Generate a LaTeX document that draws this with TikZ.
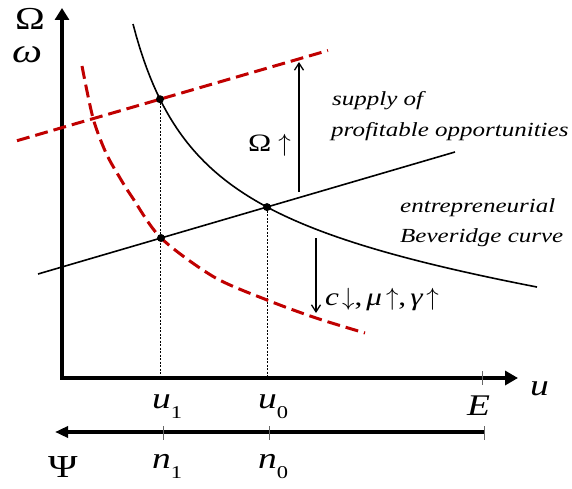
\documentclass[tikz,border=0pt]{standalone}
\usepackage{fontspec}
\setmainfont{Liberation Serif}[FakeStretch=1.25]
\usetikzlibrary{arrows.meta}
\definecolor{dred}{RGB}{192,0,0}
\newcommand{\myfs}[1]{\fontsize{#1}{#1}\selectfont}
\newcommand{\sublab}[2]{\textit{#1}\raisebox{-10pt}{\myfs{18}#2}}
\begin{document}
\begin{tikzpicture}[x=1pt,y=-1pt,
  axis/.style={line width=4.8pt, line join=miter},
  curve/.style={line width=1.6pt},
  reddash/.style={dred, line width=3pt, dash pattern=on 13pt off 6pt},
  guide/.style={line width=0.8pt, dash pattern=on 2pt off 1.5pt},
  tickmark/.style={line width=0.7pt, black!60},
  shiftarrow/.style={line width=1.3pt, -{Straight Barb[length=7pt,width=9pt]}},
  dot/.style={circle, fill, inner sep=0pt, minimum size=8pt},
  lbl/.style={inner sep=0pt, anchor=base west}]
\useasboundingbox (0,0) rectangle (572,489);

% key coordinates
\coordinate (ytop) at (62,8);
\coordinate (orig) at (62,378);
\coordinate (xend) at (518,378);
\coordinate (Eb) at (484,432);
\coordinate (psiend) at (55,432);
\coordinate (A) at (160,99.2);
\coordinate (B) at (267,207.1);
\coordinate (C) at (161,238);
\coordinate (L1) at (38,274);
\coordinate (L2) at (455,152);
\coordinate (D1) at (17,140.7);
\coordinate (D2) at (328,50.5);
\coordinate (upS) at (299,192);
\coordinate (upE) at (299,62);
\coordinate (dnS) at (316,238);
\coordinate (dnE) at (316,313);

% axes
\draw[axis, {Triangle[length=12pt,width=14pt]}-{Triangle[length=13pt,width=14pt]}] (ytop) -- (orig) -- (xend);
\draw[line width=4pt, -{Triangle[length=13pt,width=11pt]}] (Eb) -- (psiend);

% ticks
\draw[tickmark] (482,371) -- (482,385);
\draw[tickmark] (163,426) -- (163,440);
\draw[tickmark] (269,426) -- (269,440);
\draw[tickmark] (484,426) -- (484,440);

% guides
\draw[guide] (A) -- (A |- orig);
\draw[guide] (B) -- (B |- orig);

% curves and lines
\draw[curve] plot[domain=133:537, samples=120] (\x, {258.8 - 167.9/((\x-66)/100) + 0.11896*\x});
\draw[curve] (L1) -- (L2);
\draw[reddash] (D1) -- (D2);
\draw[reddash] plot[smooth, tension=0.5] coordinates {(82,66) (93,118) (106,153) (120,178) (132,197) (C) (214,277) (267,300) (316,318) (365,333)};

% shift arrows
\draw[shiftarrow] (upS) -- (upE);
\draw[shiftarrow] (dnS) -- (dnE);

% dots
\node[dot] (dA) at (A) {};
\node[dot] (dB) at (B) {};
\node[dot] (dC) at (C) {};

% labels
\node[lbl, font=\myfs{32}] (Om) at (15,30) {Ω};
\node[lbl, font=\myfs{34}] (om) at (12,63) {\textit{ω}};
\node[lbl, font=\myfs{30}] (ulab) at (530,395) {\textit{u}};
\node[lbl, font=\myfs{30}] (u1) at (152,408) {\sublab{u}{1}};
\node[lbl, font=\myfs{30}] (u0) at (258,408) {\sublab{u}{0}};
\node[lbl, font=\myfs{30}] (El) at (467,415) {\textit{E}};
\node[lbl, font=\myfs{32}] (Psi) at (48,477) {Ψ};
\node[lbl, font=\myfs{30}] (n1) at (152,468) {\sublab{n}{1}};
\node[lbl, font=\myfs{30}] (n0) at (258,468) {\sublab{n}{0}};
\node[lbl, font=\myfs{20}\itshape] (s1) at (332,106) {supply of};
\node[lbl, font=\myfs{20}\itshape] (s2) at (331,137) {profitable opportunities};
\node[lbl, font=\myfs{20}\itshape] (b1) at (400,212) {entrepreneurial};
\node[lbl, font=\myfs{20}\itshape] (b2) at (400,242) {Beveridge curve};
\node[lbl, font=\myfs{25}] (shl) at (325,305) {\textit{c}\hspace{3pt}$\downarrow$,\hspace{4pt}\textit{μ}\hspace{4pt}$\uparrow$,\hspace{4pt}\textit{γ}\hspace{3pt}$\uparrow$};
\node[lbl, font=\myfs{25}] (oml) at (248,152) {Ω\hspace{7pt}$\uparrow$};
\end{tikzpicture}
\end{document}
